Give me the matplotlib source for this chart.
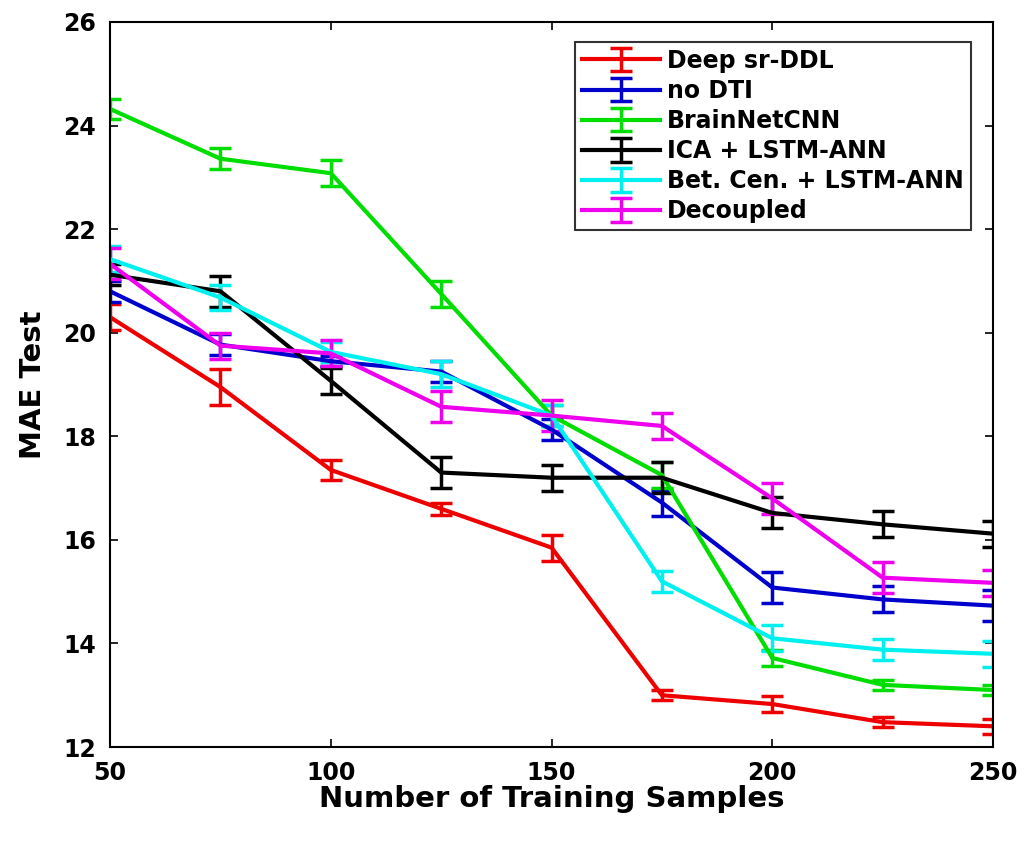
import matplotlib
matplotlib.use("Agg")
import matplotlib.pyplot as plt

x = [50, 75, 100, 125, 150, 175, 200, 225, 250]

labels = ["Deep sr-DDL", "no DTI", "BrainNetCNN", "ICA + LSTM-ANN",
          "Bet. Cen. + LSTM-ANN", "Decoupled"]
colors = ["#EE0000", "#0000CC", "#00DD00", "#000000", "#00F0F0", "#EE00EE"]

deep_sr = [20.3, 18.95, 17.35, 16.6, 15.85, 13.0, 12.83, 12.48, 12.4]
deep_sr_err = [0.25, 0.35, 0.2, 0.12, 0.25, 0.1, 0.15, 0.1, 0.15]

no_dti = [20.8, 19.77, 19.45, 19.25, 18.13, 16.72, 15.08, 14.85, 14.73]
no_dti_err = [0.2, 0.2, 0.1, 0.2, 0.2, 0.25, 0.3, 0.25, 0.3]

brainnet = [24.32, 23.36, 23.08, 20.75, 18.4, 17.25, 13.72, 13.2, 13.1]
brainnet_err = [0.2, 0.2, 0.25, 0.25, 0.2, 0.25, 0.15, 0.1, 0.1]

ica = [21.12, 20.8, 19.07, 17.3, 17.2, 17.2, 16.52, 16.3, 16.12]
ica_err = [0.2, 0.3, 0.25, 0.3, 0.25, 0.3, 0.3, 0.25, 0.25]

betcen = [21.42, 20.68, 19.63, 19.2, 18.4, 15.2, 14.1, 13.88, 13.8]
betcen_err = [0.25, 0.25, 0.2, 0.25, 0.2, 0.2, 0.25, 0.2, 0.25]

decoupled = [21.33, 19.75, 19.6, 18.57, 18.4, 18.2, 16.8, 15.27, 15.17]
decoupled_err = [0.3, 0.25, 0.25, 0.3, 0.3, 0.25, 0.3, 0.3, 0.25]

series = [deep_sr, no_dti, brainnet, ica, betcen, decoupled]
errs = [deep_sr_err, no_dti_err, brainnet_err, ica_err, betcen_err, decoupled_err]

xticks = [50, 100, 150, 200, 250]
yticks = [12, 14, 16, 18, 20, 22, 24, 26]

plt.rcParams['font.family'] = ['DejaVu Sans']
plt.rcParams['font.weight'] = 'bold'

fig = plt.figure(figsize=(10.29, 8.46), dpi=100)
ax = fig.add_axes([0.107, 0.117, 0.858, 0.857])

for y, e, c, lab in zip(series, errs, colors, labels):
    ax.errorbar(x, y, yerr=e, color=c, lw=3, elinewidth=2.5, capsize=8,
                capthick=2.5, label=lab)

ax.set_xlim(50, 250)
ax.set_ylim(12, 26)
ax.set_xticks(xticks)
ax.set_yticks(yticks)
ax.tick_params(direction='in', top=True, right=True, length=6, width=1.2,
               labelsize=17, pad=10)
for lab in ax.get_xticklabels() + ax.get_yticklabels():
    lab.set_fontweight('bold')
for s in ax.spines.values():
    s.set_linewidth(1.5)

ax.set_xlabel("Number of Training Samples", fontsize=21, fontweight='bold', labelpad=0)
ax.set_ylabel("MAE Test", fontsize=21, fontweight='bold', labelpad=12)

leg = ax.legend(loc='upper right', bbox_to_anchor=(0.975, 0.973),
                prop={'weight': 'bold', 'size': 17}, frameon=True, fancybox=False,
                edgecolor='black', handlelength=3.3, labelspacing=0.26,
                borderpad=0.3, handletextpad=0.3, borderaxespad=0.0)
leg.get_frame().set_linewidth(1.5)

fig.savefig("out.png", dpi=100, facecolor='white')
